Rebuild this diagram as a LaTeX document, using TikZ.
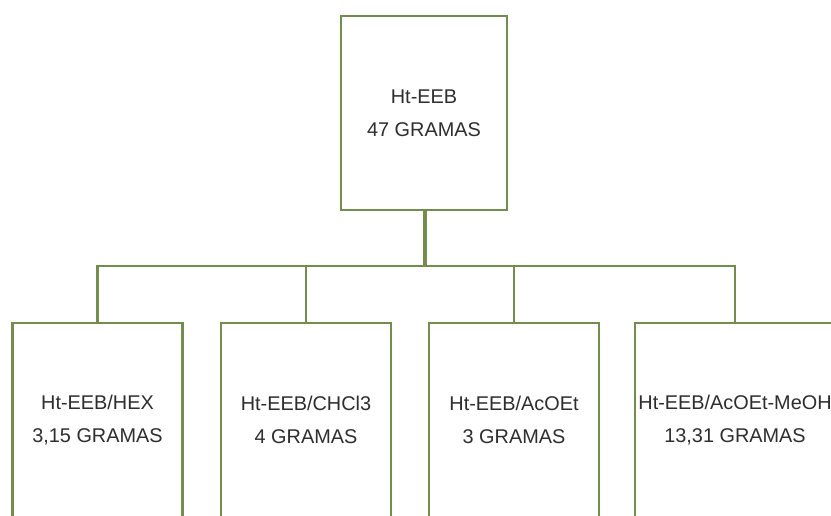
\documentclass[tikz,border=0pt]{standalone}
\usepackage{fontspec}
\setmainfont{Liberation Sans}
\usepackage{tikz}
\usepackage{xcolor}
\usetikzlibrary{positioning}
\definecolor{BoxGreen}{HTML}{748C4E}
\definecolor{TextGray}{HTML}{2E2E2E}

\begin{document}
\begin{tikzpicture}[
    x=0.75pt, y=-0.75pt,
    frac/.style={draw=BoxGreen, line width=1.7pt, fill=white, rectangle,
        minimum width=127.5pt, minimum height=146pt, inner sep=0pt,
        align=center, text=TextGray, font=\fontsize{14.9}{24.75}\selectfont},
    wide/.style={frac, minimum width=150pt},
    link/.style={draw=BoxGreen, line width=1.7pt},
    stem/.style={link, line width=2.6pt}
]
\path[use as bounding box, clip] (0,0) rectangle (831,516);

% === Crude extract (top) ===
\node[frac, minimum width=124.5pt] (ext) at (424,113) {Ht-EEB\\47 GRAMAS};

% === Fractions (bottom) ===
\node[frac] (hex) at (97.5,420) {Ht-EEB/HEX\\3,15 GRAMAS};
\node[frac] (chcl) at (306,420) {Ht-EEB/CHCl3\\4 GRAMAS};
\node[frac] (acoet) at (514,420) {Ht-EEB/AcOEt\\3 GRAMAS};
\node[wide] (meoh) at (735,420) {Ht-EEB/AcOEt-MeOH\\13,31 GRAMAS};

% Connectors
\coordinate (hub) at (425,266);
\draw[stem] (ext.south -| hub) -- (hub);
\draw[link] (hex.north) |- (hub) -| (meoh.north);
\draw[link] (chcl.north) -- (chcl.north |- hub);
\draw[link] (acoet.north) -- (acoet.north |- hub);
\end{tikzpicture}
\end{document}
